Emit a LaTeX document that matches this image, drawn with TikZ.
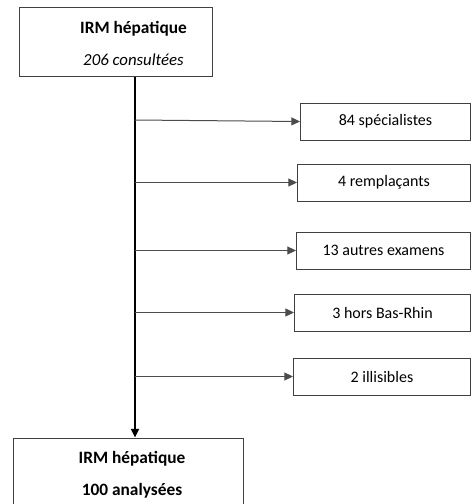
\documentclass[tikz,border=0pt]{standalone}
\usepackage{fontspec}
\setmainfont{Carlito}
\usetikzlibrary{arrows.meta}
\colorlet{boxline}{black!75}
\colorlet{branchline}{black!70}
\tikzset{
  mainbox/.style={draw=boxline, line width=0.75pt, minimum width=144.75pt, minimum height=51.75pt, inner sep=0pt},
  maintext/.style={align=center, inner sep=0pt, font=\fontsize{13}{15}\selectfont},
  sidebox/.style={draw=boxline, line width=0.75pt, minimum height=27.75pt, anchor=west, inner sep=0pt},
  branch/.style={branchline, line width=0.75pt, -{Triangle[length=6.5pt,width=6pt]}},
  spine/.style={black, line width=1.5pt, -{Triangle[length=6.5pt,width=6pt]}}
}

\begin{document}
\begin{tikzpicture}[x=0.75pt,y=-0.75pt, font=\fontsize{12}{14}\selectfont]
            % page
            \clip (0,0) rectangle (471,504);
            \useasboundingbox (0,0) rectangle (471,504);
            % main boxes
            \node[mainbox] (top) at (115.5,41.5) {};
            \node[maintext] (toptext) at (133.5,43.5) {\textbf{IRM hépatique}\\[9pt]{\fontsize{12.6}{15}\selectfont\textit{206 consultées}}};
            \node[mainbox, minimum width=172.5pt] (bottom) at (128,472.5) {};
            \node[maintext] (bottomtext) at (132,474.5) {\textbf{IRM hépatique}\\[9pt]\textbf{100 analysées}};
            % side boxes
            \node[sidebox, minimum width=127.5pt] (spec) at (300,121.5) {84 spécialistes};
            \node[sidebox, minimum width=129.75pt] (rempl) at (297,182.5) {4 remplaçants};
            \node[sidebox, minimum width=130.5pt] (autres) at (296,250.5) {13 autres examens};
            \node[sidebox, minimum width=132pt] (hors) at (294,312.5) {3 hors Bas-Rhin};
            \node[sidebox, minimum width=132.75pt] (illis) at (293,376.5) {2 illisibles};
            % vertical line
            \coordinate (spine) at (135,0);
            \draw[spine] (top.south -| spine) -- (bottom.north -| spine);
            % branches
            \coordinate (start) at (135,120);
            \draw[branch] (start) -- (spec.west);
            \foreach \side in {rempl,autres,hors,illis} {
                \draw[branch] (\side.west -| spine) -- (\side.west);
            }
\end{tikzpicture}
\end{document}
